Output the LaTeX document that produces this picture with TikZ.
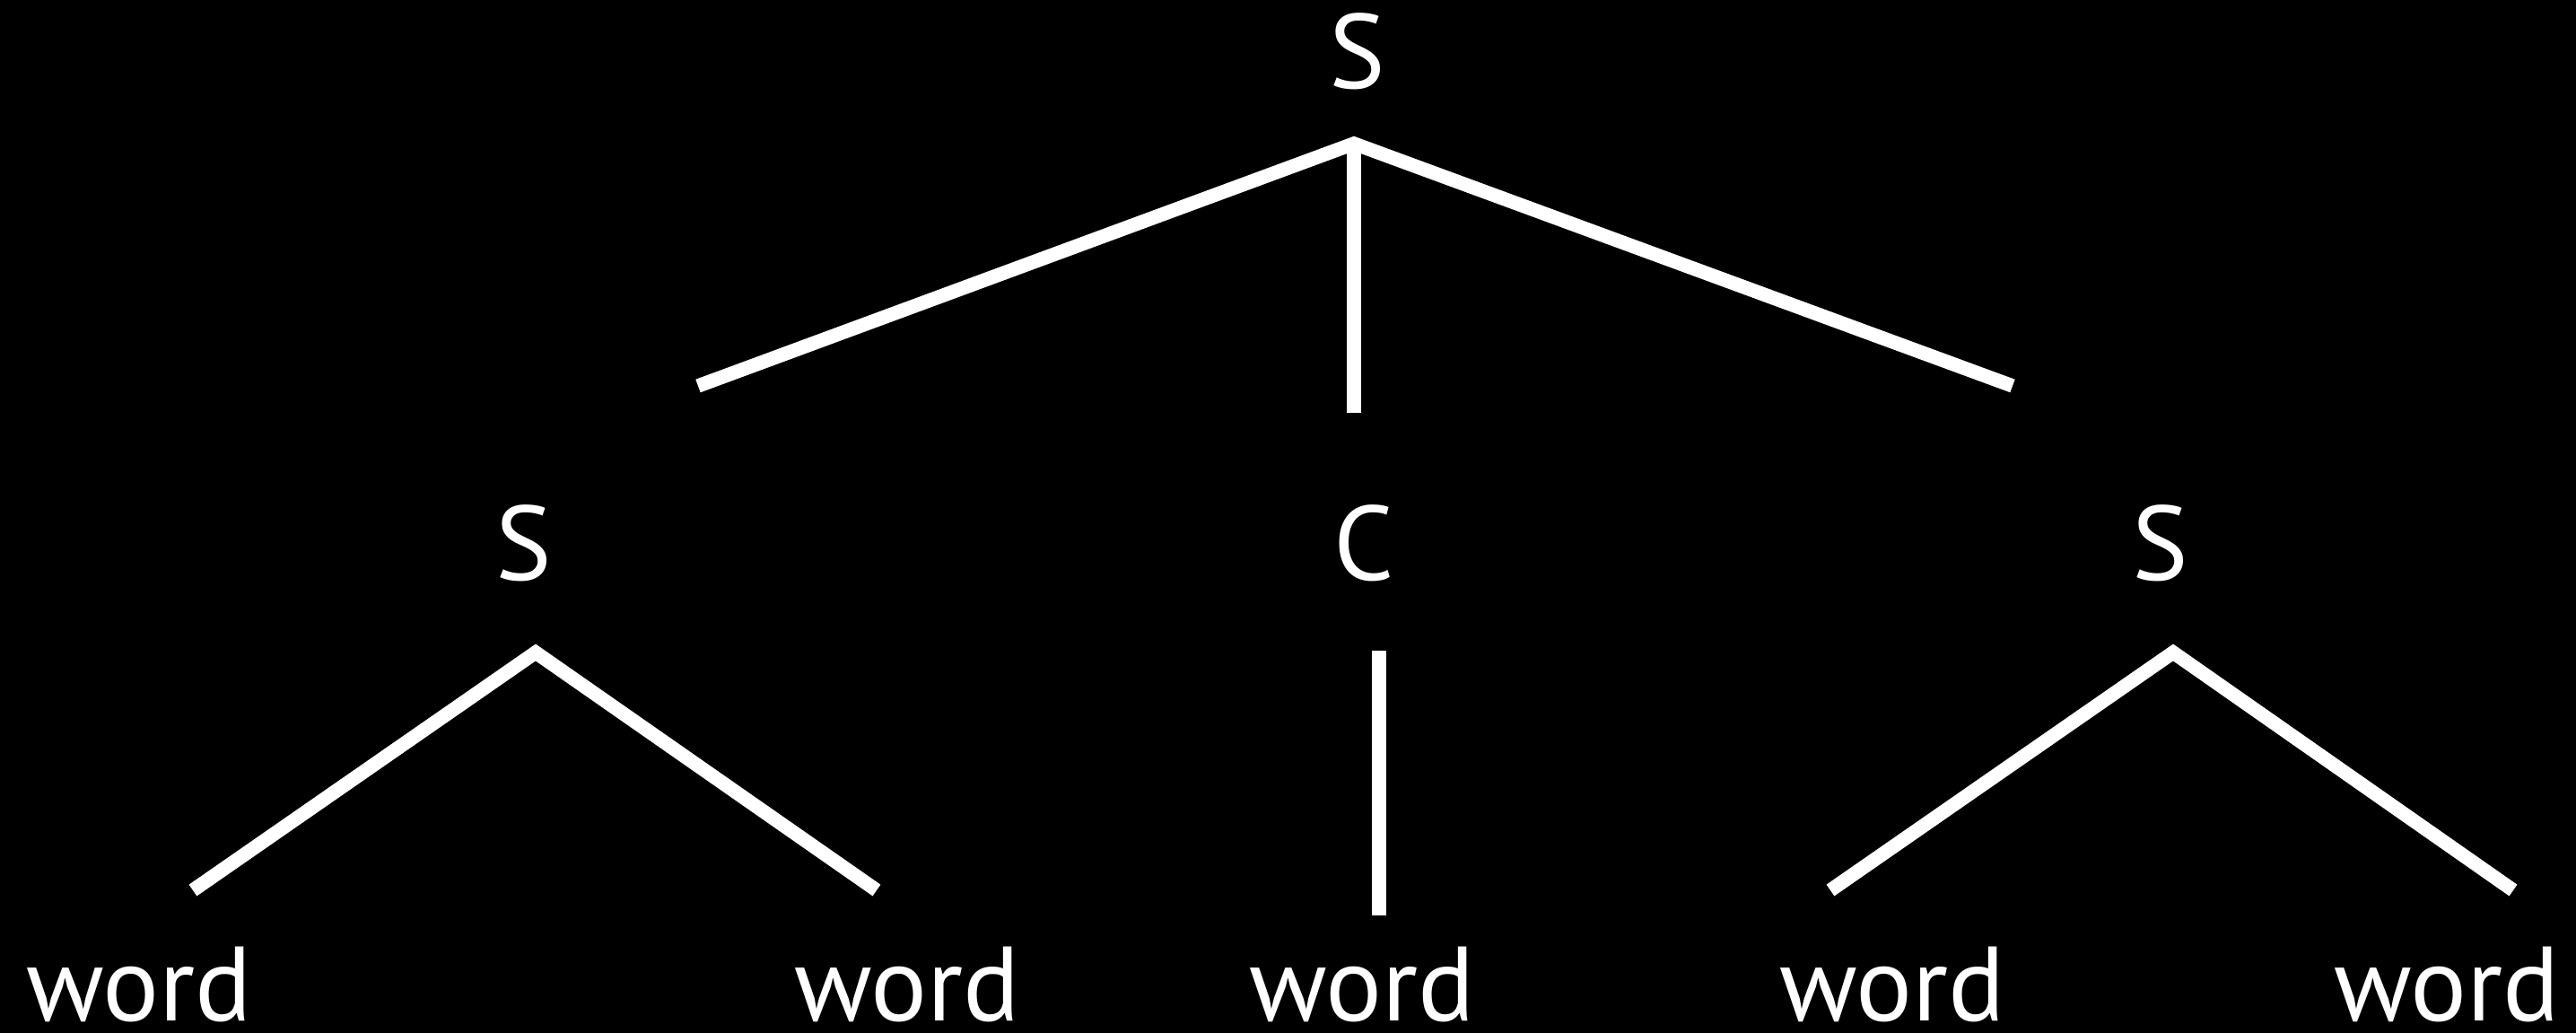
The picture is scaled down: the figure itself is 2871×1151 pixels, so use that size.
\documentclass[tikz,border=0pt]{standalone}
\usepackage{fontspec}
\setmainfont{PT Sans}
\begin{document}
\begin{tikzpicture}[x=0.01cm, y=-0.01cm,
		label/.style={text=white, anchor=base, inner sep=0pt, font=\fontsize{33.5}{38}\selectfont},
		branch/.style={draw=white, line width=4.4pt, line cap=butt, line join=miter}]

	\fill[black] (0,0) rectangle (2871,1151);
	\useasboundingbox (0,0) rectangle (2871,1151);

	% labels
	\node[label] (root) at (1513,98) {S};
	\node[label] (sleft) at (584,646) {S};
	\node[label] (conj) at (1520,646) {C};
	\node[label] (sright) at (2408,646) {S};
	\foreach \i/\x in {1/155, 2/1011, 3/1518, 4/2109, 5/2727} {
			\node[label] (w\i) at (\x,1137) {word};
		}

	% branch points
	\coordinate (rootfoot) at (1509,160);
	\coordinate (lefthead) at (778,430);
	\coordinate (midhead) at (1509,460);
	\coordinate (righthead) at (2243,430);
	\coordinate (sleftfoot) at (597,727);
	\coordinate (w1head) at (215,992);
	\coordinate (w2head) at (977,992);
	\coordinate (conjfoot) at (1537,725);
	\coordinate (w3head) at (1537,1020);
	\coordinate (srightfoot) at (2422,727);
	\coordinate (w4head) at (2040,992);
	\coordinate (w5head) at (2801,992);

	% branches
	\draw[branch] (lefthead) -- (rootfoot) -- (righthead);
	\draw[branch] (rootfoot) -- (midhead);
	\draw[branch] (w1head) -- (sleftfoot) -- (w2head);
	\draw[branch] (conjfoot) -- (w3head);
	\draw[branch] (w4head) -- (srightfoot) -- (w5head);
\end{tikzpicture}
\end{document}
